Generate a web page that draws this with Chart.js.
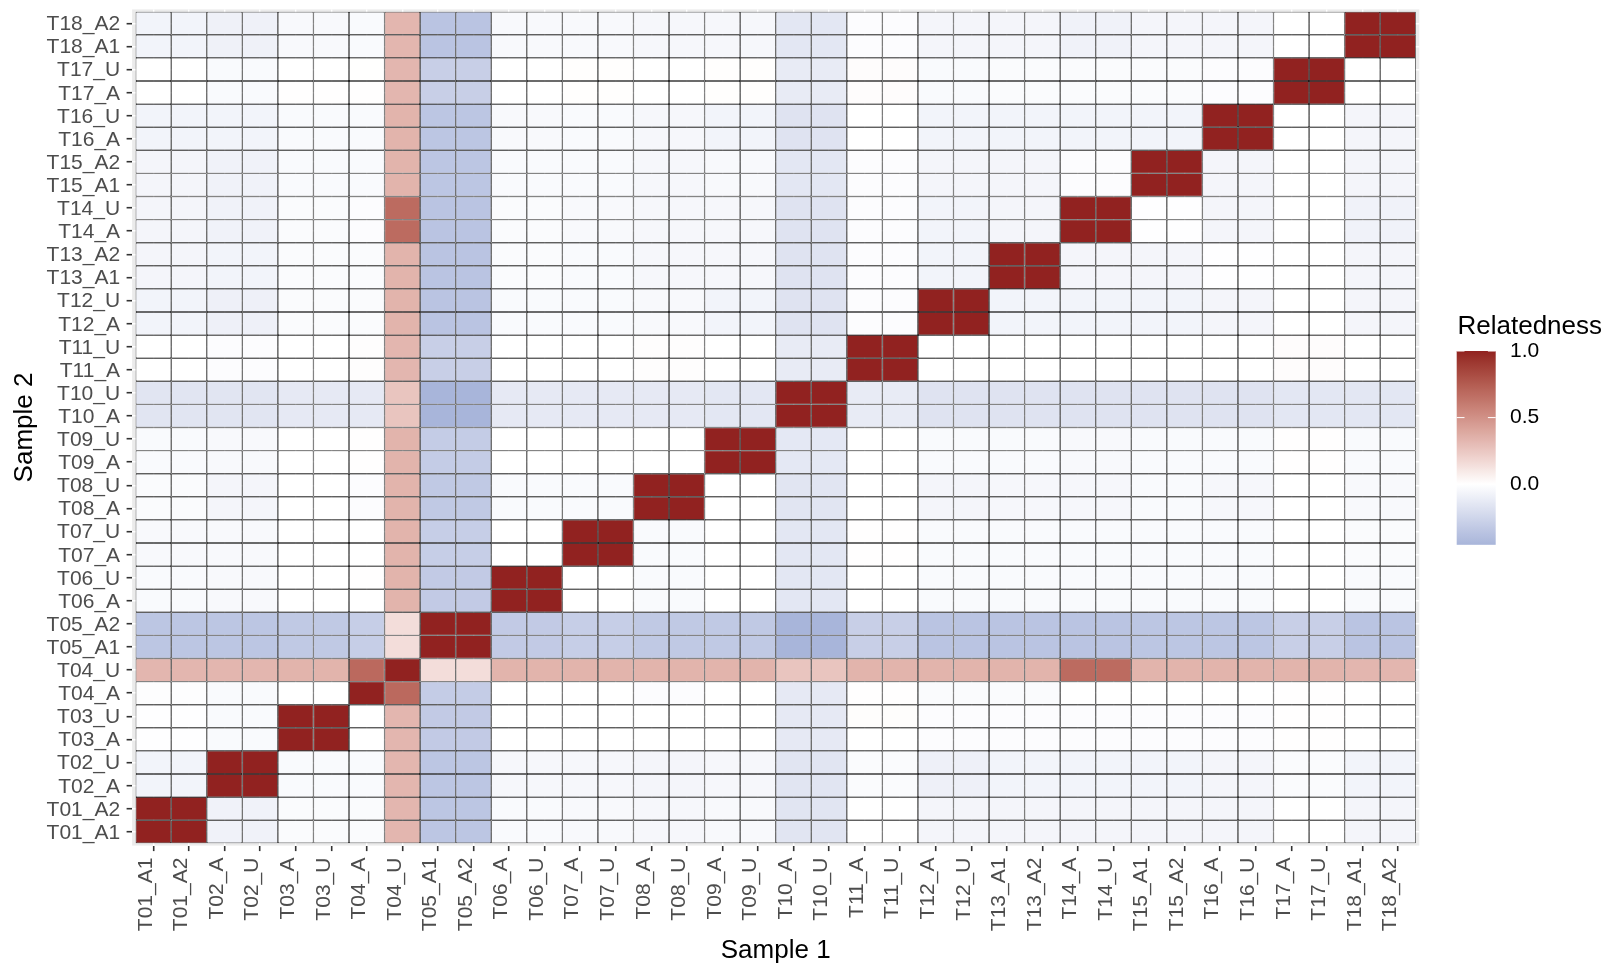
<!DOCTYPE html>
<html>
<head>
<meta charset="utf-8">
<script src="https://cdn.jsdelivr.net/npm/chart.js@4/dist/chart.umd.min.js"></script>
<style>
  html, body { margin: 0; padding: 0; background: #ffffff; }
  canvas { display: block; }
</style>
</head>
<body>
<canvas id="c" width="1615" height="967"></canvas>
<script>
// ---------- DATA ----------
// Sample labels (Sample 1 on x, Sample 2 on y; bottom row first)
const samples = ["T01_A1","T01_A2","T02_A","T02_U","T03_A","T03_U","T04_A","T04_U","T05_A1","T05_A2",
  "T06_A","T06_U","T07_A","T07_U","T08_A","T08_U","T09_A","T09_U","T10_A","T10_U",
  "T11_A","T11_U","T12_A","T12_U","T13_A1","T13_A2","T14_A","T14_U","T15_A1","T15_A2",
  "T16_A","T16_U","T17_A","T17_U","T18_A1","T18_A2"];

// Relatedness values, one array per Sample 2 row, columns in the order of `samples`
const T01_A1 = [1, 1, -0.078, -0.078, -0.025, -0.025, -0.025, 0.33, -0.35, -0.35, -0.03, -0.03, -0.037, -0.037, -0.049, -0.049, -0.037, -0.037, -0.155, -0.155, 0, 0, -0.06, -0.06, -0.06, -0.06, -0.06, -0.06, -0.06, -0.06, -0.06, -0.06, 0, 0, -0.06, -0.06];
const T01_A2 = [1, 1, -0.078, -0.078, -0.025, -0.025, -0.025, 0.33, -0.35, -0.35, -0.03, -0.03, -0.037, -0.037, -0.049, -0.049, -0.037, -0.037, -0.155, -0.155, 0, 0, -0.06, -0.06, -0.06, -0.06, -0.06, -0.06, -0.06, -0.06, -0.06, -0.06, 0, 0, -0.06, -0.06];
const T02_A = [-0.066, -0.066, 1, 1, -0.03, -0.03, -0.03, 0.33, -0.35, -0.35, -0.049, -0.049, -0.049, -0.049, -0.06, -0.06, -0.049, -0.049, -0.155, -0.155, -0.025, -0.025, -0.09, -0.09, -0.066, -0.066, -0.066, -0.066, -0.066, -0.066, -0.06, -0.06, -0.025, -0.025, -0.066, -0.066];
const T02_U = [-0.066, -0.066, 1, 1, -0.03, -0.03, -0.03, 0.33, -0.35, -0.35, -0.049, -0.049, -0.049, -0.049, -0.06, -0.06, -0.049, -0.049, -0.155, -0.155, -0.025, -0.025, -0.09, -0.09, -0.066, -0.066, -0.066, -0.066, -0.066, -0.066, -0.06, -0.06, -0.025, -0.025, -0.066, -0.066];
const T03_A = [-0.005, -0.005, -0.03, -0.03, 1, 1, 0, 0.33, -0.32, -0.32, 0, 0, 0, 0, 0, 0, 0, 0, -0.13, -0.13, 0, 0, -0.015, -0.015, -0.015, -0.015, -0.015, -0.015, -0.015, -0.015, -0.015, -0.015, 0.004, 0.004, 0, 0];
const T03_U = [-0.005, -0.005, -0.03, -0.03, 1, 1, 0, 0.33, -0.32, -0.32, 0, 0, 0, 0, 0, 0, 0, 0, -0.13, -0.13, 0.01, 0.01, -0.015, -0.015, -0.015, -0.015, -0.015, -0.015, -0.015, -0.015, -0.015, -0.015, 0.004, 0.004, 0, 0];
const T04_A = [-0.01, -0.01, -0.03, -0.03, 0, 0, 1, 0.69, -0.31, -0.31, 0, 0, 0, 0, -0.015, -0.015, 0, 0, -0.13, -0.13, 0.005, 0.005, -0.025, -0.025, -0.025, -0.025, 0, 0, 0, 0, 0, 0, 0.004, 0.004, 0, 0];
const T04_U = [0.33, 0.33, 0.33, 0.33, 0.34, 0.34, 0.69, 1, 0.15, 0.15, 0.34, 0.34, 0.34, 0.34, 0.34, 0.34, 0.34, 0.34, 0.26, 0.26, 0.34, 0.34, 0.34, 0.34, 0.34, 0.34, 0.68, 0.68, 0.34, 0.34, 0.34, 0.34, 0.34, 0.34, 0.33, 0.33];
const T05_A1 = [-0.35, -0.35, -0.35, -0.35, -0.33, -0.33, -0.3, 0.15, 1, 1, -0.32, -0.32, -0.3, -0.3, -0.33, -0.33, -0.33, -0.33, -0.455, -0.455, -0.29, -0.29, -0.36, -0.36, -0.36, -0.36, -0.36, -0.36, -0.35, -0.35, -0.35, -0.35, -0.29, -0.29, -0.36, -0.36];
const T05_A2 = [-0.35, -0.35, -0.35, -0.35, -0.33, -0.33, -0.3, 0.15, 1, 1, -0.32, -0.32, -0.3, -0.3, -0.33, -0.33, -0.33, -0.33, -0.455, -0.455, -0.29, -0.29, -0.36, -0.36, -0.36, -0.36, -0.36, -0.36, -0.35, -0.35, -0.35, -0.35, -0.29, -0.29, -0.36, -0.36];
const T06_A = [-0.03, -0.03, -0.037, -0.037, 0, 0, 0, 0.34, -0.32, -0.32, 1, 1, 0, 0, -0.03, -0.03, 0, 0, -0.146, -0.146, 0, 0, -0.03, -0.03, -0.03, -0.03, -0.03, -0.03, -0.03, -0.03, -0.03, -0.03, 0, 0, -0.03, -0.03];
const T06_U = [-0.03, -0.03, -0.037, -0.037, 0, 0, 0.003, 0.34, -0.32, -0.32, 1, 1, 0, 0, -0.03, -0.03, 0, 0, -0.146, -0.146, 0, 0, -0.03, -0.03, -0.03, -0.03, -0.03, -0.03, -0.03, -0.03, -0.03, -0.03, 0, 0, -0.03, -0.03];
const T07_A = [-0.037, -0.037, -0.037, -0.037, 0, 0, 0, 0.34, -0.3, -0.3, 0, 0, 1, 1, -0.03, -0.03, 0, 0, -0.146, -0.146, 0.004, 0.004, -0.03, -0.03, -0.03, -0.03, -0.03, -0.03, -0.03, -0.03, -0.03, -0.03, 0, 0, -0.025, -0.025];
const T07_U = [-0.037, -0.037, -0.037, -0.037, 0, 0, 0, 0.34, -0.3, -0.3, 0, 0, 1, 1, -0.03, -0.03, 0, 0, -0.146, -0.146, 0.004, 0.004, -0.03, -0.03, -0.03, -0.03, -0.03, -0.03, -0.03, -0.03, -0.03, -0.03, 0, 0, -0.025, -0.025];
const T08_A = [-0.025, -0.025, -0.06, -0.06, 0, 0, -0.015, 0.34, -0.33, -0.33, -0.03, -0.03, -0.03, -0.03, 1, 1, 0, 0, -0.155, -0.155, 0, 0, -0.06, -0.06, -0.049, -0.049, -0.049, -0.049, -0.03, -0.03, -0.049, -0.049, 0, 0, -0.037, -0.037];
const T08_U = [-0.025, -0.025, -0.06, -0.06, 0, 0, -0.015, 0.34, -0.33, -0.33, -0.03, -0.03, -0.03, -0.03, 1, 1, 0, 0, -0.155, -0.155, 0, 0, -0.06, -0.06, -0.049, -0.049, -0.049, -0.049, -0.03, -0.03, -0.049, -0.049, 0, 0, -0.037, -0.037];
const T09_A = [-0.03, -0.03, -0.037, -0.037, 0, 0, 0.004, 0.34, -0.31, -0.31, 0, 0, 0, 0, 0, 0, 1, 1, -0.14, -0.14, 0, 0, -0.03, -0.03, -0.03, -0.03, -0.037, -0.037, -0.03, -0.03, -0.03, -0.03, 0.004, 0.004, -0.03, -0.03];
const T09_U = [-0.03, -0.03, -0.037, -0.037, 0, 0, 0.004, 0.34, -0.31, -0.31, 0, 0, 0, 0, 0, 0, 1, 1, -0.14, -0.14, 0, 0, -0.03, -0.03, -0.03, -0.03, -0.037, -0.037, -0.03, -0.03, -0.03, -0.03, 0.004, 0.004, -0.03, -0.03];
const T10_A = [-0.155, -0.155, -0.155, -0.155, -0.13, -0.13, -0.13, 0.26, -0.455, -0.455, -0.13, -0.13, -0.13, -0.13, -0.13, -0.13, -0.146, -0.146, 1, 1, -0.12, -0.12, -0.167, -0.167, -0.167, -0.167, -0.167, -0.167, -0.167, -0.167, -0.167, -0.167, -0.146, -0.146, -0.146, -0.146];
const T10_U = [-0.155, -0.155, -0.155, -0.155, -0.13, -0.13, -0.13, 0.26, -0.455, -0.455, -0.13, -0.13, -0.13, -0.13, -0.13, -0.13, -0.146, -0.146, 1, 1, -0.12, -0.12, -0.167, -0.167, -0.167, -0.167, -0.167, -0.167, -0.167, -0.167, -0.167, -0.167, -0.146, -0.146, -0.146, -0.146];
const T11_A = [0, 0, -0.015, -0.015, 0, 0, 0.008, 0.33, -0.29, -0.29, 0, 0, 0, 0, 0.008, 0.008, 0, 0, -0.12, -0.12, 1, 1, 0, 0, 0, 0, 0, 0, 0, 0, 0, 0, 0.012, 0.012, 0, 0];
const T11_U = [0, 0, -0.015, -0.015, 0, 0, 0.008, 0.33, -0.29, -0.29, 0, 0, 0, 0, 0.008, 0.008, 0, 0, -0.12, -0.12, 1, 1, 0, 0, 0, 0, 0, 0, 0, 0, 0, 0, 0.012, 0.012, 0, 0];
const T12_A = [-0.066, -0.066, -0.09, -0.09, -0.025, -0.025, -0.025, 0.34, -0.36, -0.36, -0.03, -0.03, -0.03, -0.03, -0.037, -0.037, -0.066, -0.066, -0.167, -0.167, -0.015, -0.015, 1, 1, -0.066, -0.066, -0.066, -0.066, -0.066, -0.066, -0.06, -0.06, 0, 0, -0.06, -0.06];
const T12_U = [-0.066, -0.066, -0.09, -0.09, -0.025, -0.025, -0.025, 0.34, -0.36, -0.36, -0.03, -0.03, -0.03, -0.03, -0.037, -0.037, -0.066, -0.066, -0.167, -0.167, -0.015, -0.015, 1, 1, -0.066, -0.066, -0.066, -0.066, -0.066, -0.066, -0.06, -0.06, 0, 0, -0.06, -0.06];
const T13_A1 = [-0.06, -0.06, -0.066, -0.066, -0.025, -0.025, -0.025, 0.34, -0.36, -0.36, -0.025, -0.025, -0.03, -0.03, -0.049, -0.049, -0.049, -0.049, -0.167, -0.167, -0.015, -0.015, -0.066, -0.066, 1, 1, -0.06, -0.06, -0.06, -0.06, -0.005, -0.005, 0, 0, -0.06, -0.06];
const T13_A2 = [-0.06, -0.06, -0.066, -0.066, -0.025, -0.025, -0.025, 0.34, -0.36, -0.36, -0.025, -0.025, -0.03, -0.03, -0.049, -0.049, -0.049, -0.049, -0.167, -0.167, -0.015, -0.015, -0.066, -0.066, 1, 1, -0.06, -0.06, -0.06, -0.06, -0.005, -0.005, 0, 0, -0.06, -0.06];
const T14_A = [-0.06, -0.06, -0.078, -0.078, -0.025, -0.025, -0.015, 0.68, -0.36, -0.36, -0.025, -0.025, -0.037, -0.037, -0.049, -0.049, -0.045, -0.045, -0.167, -0.167, -0.015, -0.015, -0.066, -0.066, -0.06, -0.06, 1, 1, -0.005, -0.005, -0.06, -0.06, 0, 0, -0.078, -0.078];
const T14_U = [-0.06, -0.06, -0.078, -0.078, -0.025, -0.025, -0.015, 0.68, -0.36, -0.36, -0.025, -0.025, -0.037, -0.037, -0.049, -0.049, -0.045, -0.045, -0.167, -0.167, -0.015, -0.015, -0.066, -0.066, -0.06, -0.06, 1, 1, -0.005, -0.005, -0.06, -0.06, 0, 0, -0.078, -0.078];
const T15_A1 = [-0.06, -0.06, -0.078, -0.078, -0.03, -0.03, -0.03, 0.34, -0.35, -0.35, -0.03, -0.03, -0.03, -0.03, -0.045, -0.045, -0.037, -0.037, -0.146, -0.146, -0.015, -0.015, -0.06, -0.06, -0.06, -0.06, -0.015, -0.015, 1, 1, -0.06, -0.06, 0, 0, -0.06, -0.06];
const T15_A2 = [-0.06, -0.06, -0.078, -0.078, -0.03, -0.03, -0.03, 0.34, -0.35, -0.35, -0.03, -0.03, -0.03, -0.03, -0.045, -0.045, -0.037, -0.037, -0.146, -0.146, -0.015, -0.015, -0.06, -0.06, -0.06, -0.06, -0.015, -0.015, 1, 1, -0.06, -0.06, 0, 0, -0.06, -0.06];
const T16_A = [-0.066, -0.066, -0.066, -0.066, -0.03, -0.03, -0.03, 0.34, -0.35, -0.35, -0.037, -0.037, -0.03, -0.03, -0.049, -0.049, -0.066, -0.066, -0.167, -0.167, 0, 0, -0.066, -0.066, -0.066, -0.066, -0.066, -0.066, -0.066, -0.066, 1, 1, 0, 0, -0.06, -0.06];
const T16_U = [-0.066, -0.066, -0.066, -0.066, -0.03, -0.03, -0.03, 0.34, -0.35, -0.35, -0.037, -0.037, -0.03, -0.03, -0.049, -0.049, -0.066, -0.066, -0.167, -0.167, 0, 0, -0.066, -0.066, -0.066, -0.066, -0.066, -0.066, -0.066, -0.066, 1, 1, 0, 0, -0.06, -0.06];
const T17_A = [0, 0, -0.03, -0.03, 0.004, 0.004, 0.004, 0.33, -0.29, -0.29, 0, 0, 0.006, 0.006, 0, 0, 0.006, 0.006, -0.12, -0.12, 0.012, 0.012, -0.03, -0.03, -0.025, -0.025, -0.025, -0.025, -0.025, -0.025, -0.015, -0.015, 1, 1, 0, 0];
const T17_U = [0, 0, -0.03, -0.03, 0, 0, 0.002, 0.33, -0.29, -0.29, 0, 0, 0.006, 0.006, 0, 0, 0.006, 0.006, -0.12, -0.12, 0.012, 0.012, -0.03, -0.03, -0.025, -0.025, -0.025, -0.025, -0.025, -0.025, -0.015, -0.015, 1, 1, 0, 0];
const T18_A1 = [-0.066, -0.066, -0.085, -0.085, -0.037, -0.037, -0.03, 0.33, -0.36, -0.36, -0.037, -0.037, -0.037, -0.037, -0.049, -0.049, -0.049, -0.049, -0.146, -0.146, -0.015, -0.015, -0.06, -0.06, -0.06, -0.06, -0.078, -0.078, -0.06, -0.06, -0.06, -0.06, 0, 0, 1, 1];
const T18_A2 = [-0.066, -0.066, -0.085, -0.085, -0.037, -0.037, -0.03, 0.33, -0.36, -0.36, -0.037, -0.037, -0.037, -0.037, -0.049, -0.049, -0.049, -0.049, -0.146, -0.146, -0.015, -0.015, -0.06, -0.06, -0.06, -0.06, -0.078, -0.078, -0.06, -0.06, -0.06, -0.06, 0, 0, 1, 1];

// Legend (colour bar) values
const legendTicks = [1.0, 0.5, 0.0];
const legendTickLabels = ["1.0", "0.5", "0.0"];
const valueRange = [-0.455, 1.0];

// table built from the rows above (bottom to top)
const rows = [T01_A1, T01_A2, T02_A, T02_U, T03_A, T03_U, T04_A, T04_U, T05_A1, T05_A2,
  T06_A, T06_U, T07_A, T07_U, T08_A, T08_U, T09_A, T09_U, T10_A, T10_U,
  T11_A, T11_U, T12_A, T12_U, T13_A1, T13_A2, T14_A, T14_U, T15_A1, T15_A2,
  T16_A, T16_U, T17_A, T17_U, T18_A1, T18_A2];

// ---------- COLOUR SCALE (Lab interpolation, like ggplot2 gradient2) ----------
const HIGH = "#912220", MID = "#ffffff", LOW_AT_MIN = "#a8b5da";
function hexToRgb(h){ return [parseInt(h.slice(1,3),16), parseInt(h.slice(3,5),16), parseInt(h.slice(5,7),16)]; }
function toLin(c){ c/=255; return c<=0.04045 ? c/12.92 : Math.pow((c+0.055)/1.055, 2.4); }
function fromLin(v){ v = v<=0.0031308 ? 12.92*v : 1.055*Math.pow(v,1/2.4)-0.055; return Math.round(Math.min(1,Math.max(0,v))*255); }
const WR = [0.95047, 1, 1.08883];
function rgbToLab(rgb){
  const [r,g,b] = rgb.map(toLin);
  const X = (0.4124564*r+0.3575761*g+0.1804375*b)/WR[0];
  const Y = (0.2126729*r+0.7151522*g+0.0721750*b);
  const Z = (0.0193339*r+0.1191920*g+0.9503041*b)/WR[2];
  const f = t => t>0.008856 ? Math.cbrt(t) : 7.787*t+16/116;
  const fx=f(X), fy=f(Y), fz=f(Z);
  return [116*fy-16, 500*(fx-fy), 200*(fy-fz)];
}
function labToRgb(lab){
  const [L,a,b] = lab;
  const fy=(L+16)/116, fx=fy+a/500, fz=fy-b/200;
  const fi = t => { const t3=t*t*t; return t3>0.008856 ? t3 : (t-16/116)/7.787; };
  const X=fi(fx)*WR[0], Y=fi(fy), Z=fi(fz)*WR[2];
  const r= 3.2404542*X-1.5371385*Y-0.4985314*Z;
  const g=-0.9692660*X+1.8760108*Y+0.0415560*Z;
  const bb=0.0556434*X-0.2040259*Y+1.0572252*Z;
  return [fromLin(r), fromLin(g), fromLin(bb)];
}
const labHigh = rgbToLab(hexToRgb(HIGH)), labMid = rgbToLab(hexToRgb(MID)), labLow = rgbToLab(hexToRgb(LOW_AT_MIN));
function colorFor(v){
  let t, end;
  if (v >= 0) { t = Math.min(1, v / valueRange[1]); end = labHigh; }
  else { t = Math.min(1, v / valueRange[0]); end = labLow; }
  const lab = labMid.map((m, k) => m + (end[k]-m)*t);
  const c = labToRgb(lab);
  return `rgb(${c[0]},${c[1]},${c[2]})`;
}

// ---------- CHART ----------
const FONT = "'Liberation Sans', Arial, Helvetica, sans-serif";
const centers = samples.map((_, i) => i + 0.5);

const datasets = rows.map((vals, r) => ({
  label: samples[r],
  data: vals.map((v, j) => ({ x: centers[j], y: 1, v: v })),
  backgroundColor: ctx => (ctx.raw ? colorFor(ctx.raw.v) : '#ffffff'),
  borderColor: '#000000',
  borderWidth: 0.7,
  borderSkipped: false,
  inflateAmount: 0,
  barPercentage: 1,
  categoryPercentage: 1
}));

const panelBg = {
  id: 'panelBg',
  beforeDraw(chart) {
    const {ctx, chartArea: a} = chart;
    ctx.save();
    ctx.fillStyle = '#ffffff';
    ctx.fillRect(0, 0, chart.width, chart.height);
    ctx.fillStyle = '#ebebeb';
    ctx.fillRect(a.left, a.top, a.right - a.left, a.bottom - a.top);
    ctx.restore();
  }
};

const colorBar = {
  id: 'colorBar',
  afterDraw(chart) {
    const ctx = chart.ctx;
    const x0 = 1456.7, w = 39, yZero = 484.2, pxPerUnit = 133.2;
    const yOf = v => yZero - v * pxPerUnit;
    ctx.save();
    ctx.fillStyle = '#000000';
    ctx.font = `26px ${FONT}`;
    ctx.textAlign = 'left';
    ctx.textBaseline = 'alphabetic';
    ctx.fillText('Relatedness', 1457.5, 334.3);
    const yTop = yOf(valueRange[1]), yBot = yOf(valueRange[0]);
    const grad = ctx.createLinearGradient(0, yTop, 0, yBot);
    const n = 80;
    for (let k = 0; k <= n; k++) {
      const v = valueRange[1] + (valueRange[0] - valueRange[1]) * k / n;
      grad.addColorStop(k / n, colorFor(v));
    }
    ctx.fillStyle = grad;
    ctx.fillRect(x0, yTop, w, yBot - yTop);
    ctx.strokeStyle = '#ffffff';
    ctx.lineWidth = 1;
    const tl = w * 0.2;
    legendTicks.forEach(v => {
      const y = yOf(v);
      ctx.beginPath();
      ctx.moveTo(x0, y); ctx.lineTo(x0 + tl, y);
      ctx.moveTo(x0 + w - tl, y); ctx.lineTo(x0 + w, y);
      ctx.stroke();
    });
    ctx.fillStyle = '#000000';
    ctx.font = `21px ${FONT}`;
    ctx.textBaseline = 'middle';
    legendTicks.forEach((v, i) => ctx.fillText(legendTickLabels[i], 1510, yOf(v)));
    ctx.restore();
  }
};

const axisCommon = (titleText, titlePad, labelOffset) => ({
  type: 'linear',
  stacked: true,
  offset: false,
  min: -0.1,
  max: samples.length + 0.1,
  afterBuildTicks: s => { s.ticks = centers.map(v => ({ value: v })); },
  ticks: {
    callback: (v, i) => samples[i],
    autoSkip: false,
    color: '#4d4d4d',
    font: { family: FONT, size: 21 },
    padding: 6.5,
    labelOffset: labelOffset
  },
  grid: {
    offset: false,
    color: '#ffffff',
    lineWidth: 1.4,
    tickColor: '#333333',
    tickWidth: 1.6,
    tickLength: 5.5,
    drawOnChartArea: true
  },
  border: { display: false },
  title: {
    display: true,
    text: titleText,
    color: '#000000',
    font: { family: FONT, size: 26 },
    padding: titlePad
  }
});

const xScale = axisCommon('Sample 1', { top: 0, bottom: 1 }, -7.5);
xScale.ticks.minRotation = 90;
xScale.ticks.maxRotation = 90;
xScale.afterFit = s => { s.height = 121.4; s.paddingLeft = 0; s.paddingRight = 0; };

const yScale = axisCommon('Sample 2', { top: 9.6, bottom: 0 }, 1.2);
yScale.afterFit = s => { s.width = 132.1; s.paddingTop = 0; s.paddingBottom = 0; };

new Chart(document.getElementById('c'), {
  type: 'bar',
  data: { datasets },
  options: {
    responsive: false,
    animation: false,
    devicePixelRatio: 1,
    layout: { padding: { top: 9.4, right: 195.7, bottom: 0, left: 0 } },
    plugins: { legend: { display: false }, tooltip: { enabled: false } },
    scales: { x: xScale, y: yScale }
  },
  plugins: [panelBg, colorBar]
});
</script>
</body>
</html>
